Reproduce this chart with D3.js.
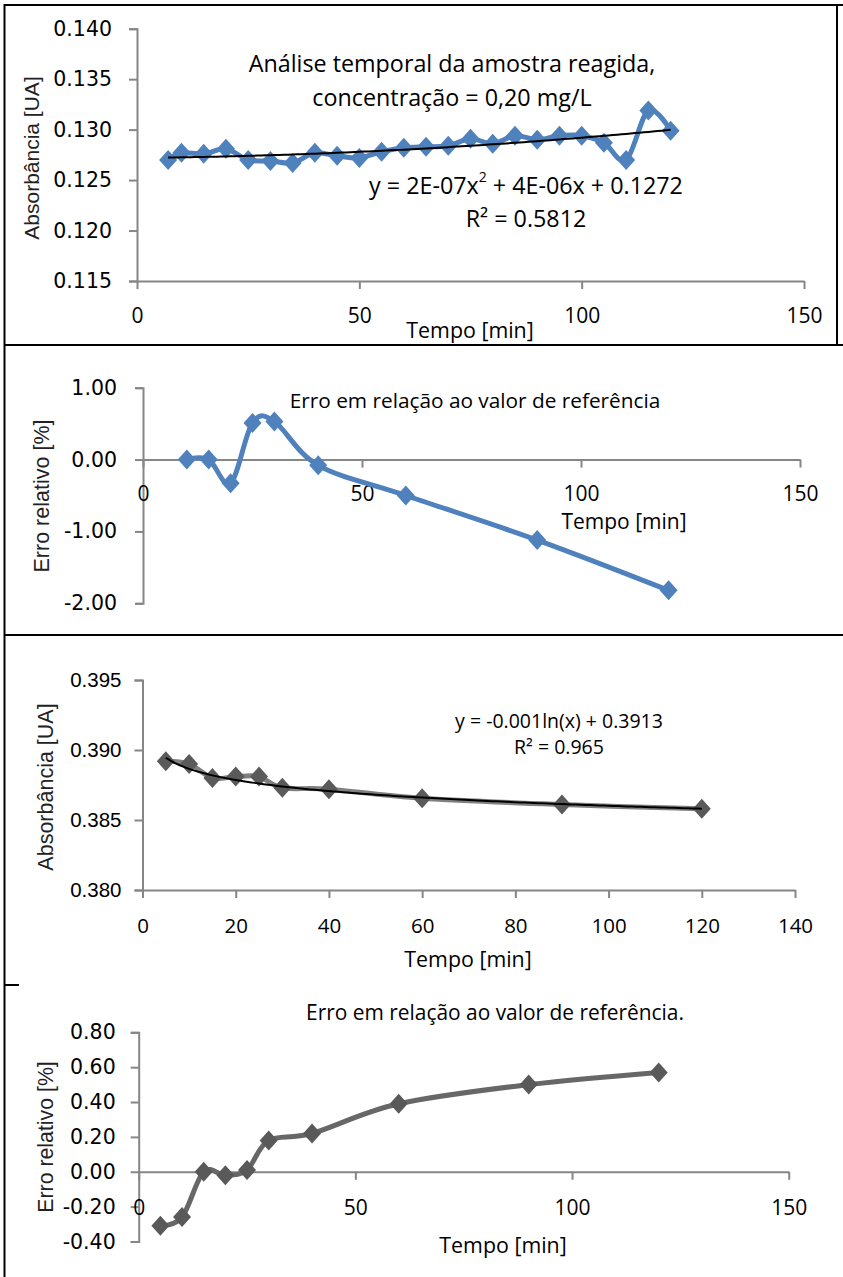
<!DOCTYPE html>
<html>
<head>
<meta charset="utf-8">
<script src="https://cdn.jsdelivr.net/npm/d3@7"></script>
<style>
  body { margin: 0; background: #fff; }
  svg { display: block; }
</style>
</head>
<body>
<div id="chart"></div>
<script>
// panel 1: absorbance over time, 0,20 mg/L
const p1Time = [7, 10, 15, 20, 25, 30, 35, 40, 45, 50, 55, 60, 65, 70, 75, 80, 85, 90, 95, 100, 105, 110, 115, 120];
const p1Abs = [0.1270, 0.1277, 0.1276, 0.1281, 0.1270, 0.1269, 0.1267, 0.1277, 0.1274, 0.1272, 0.1278, 0.1282, 0.1283, 0.1284,
  0.1291, 0.1286, 0.1294, 0.1290, 0.1294, 0.1294, 0.1287, 0.1270, 0.1319, 0.1299];
const p1Fit = [1.6e-7, 4e-6, 0.1272]; // a, b, c of the polynomial trendline
const p1XTicks = [0, 50, 100, 150];
const p1YTicks = [0.115, 0.120, 0.125, 0.130, 0.135, 0.140];

// panel 2: relative error
const p2Time = [10, 15, 20, 25, 30, 40, 60, 90, 120];
const p2Err = [0.00, 0.00, -0.33, 0.51, 0.53, -0.08, -0.50, -1.12, -1.82];
const p2XTicks = [0, 50, 100, 150];
const p2YTicks = [-2, -1, 0, 1];

// panel 3: absorbance with log trendline
const p3Time = [5, 10, 15, 20, 25, 30, 40, 60, 90, 120];
const p3Abs = [0.3892, 0.3890, 0.3880, 0.3881, 0.3881, 0.3873, 0.3872, 0.38655, 0.3861, 0.3858];
const p3Fit = [-0.001145, 0.39129]; // a*ln(x) + b
const p3XTicks = [0, 20, 40, 60, 80, 100, 120, 140];
const p3YTicks = [0.380, 0.385, 0.390, 0.395];

// panel 4: relative error
const p4Time = [5, 10, 15, 20, 25, 30, 40, 60, 90, 120];
const p4Err = [-0.31, -0.26, 0.00, -0.02, 0.01, 0.18, 0.22, 0.39, 0.50, 0.57];
const p4XTicks = [0, 50, 100, 150];
const p4YTicks = [-0.4, -0.2, 0, 0.2, 0.4, 0.6, 0.8];

const W = 843, H = 1277;
const svg = d3.select('#chart').append('svg').attr('width', W).attr('height', H);

const wideFont = '"DejaVu Sans", Verdana, sans-serif';
const armFont = '"Liberation Sans", Arial, sans-serif';
const textFont = '"Open Sans", sans-serif';
const axisColor = '#868686';

const diamond = (cx, cy) => `M${cx},${cy - 10}L${cx + 9},${cy}L${cx},${cy + 10}L${cx - 9},${cy}Z`;

function drawAxes(g, x, y, o) {
  // y axis
  const ya = g.append('g').attr('transform', `translate(${x.range()[0]},0)`)
    .call(d3.axisLeft(y).tickValues(o.yTicks).tickSize(8).tickFormat(o.yFmt));
  ya.select('.domain').attr('stroke', axisColor).attr('stroke-width', 2);
  ya.selectAll('.tick line').attr('stroke', axisColor).attr('stroke-width', 2);
  ya.selectAll('.tick text').attr('x', -o.yGap).attr('font-family', o.yFamily)
    .attr('font-size', o.yFont).attr('fill', '#000');

  // x axis at the crossing value
  const xa = g.append('g').attr('transform', `translate(0,${y(o.xCross)})`)
    .call(d3.axisBottom(x).tickValues(o.xTicks).tickSize(8).tickSizeOuter(0).tickFormat(d3.format('d')));
  xa.select('.domain').attr('stroke', axisColor).attr('stroke-width', 2);
  xa.selectAll('.tick line').attr('stroke', axisColor).attr('stroke-width', 2);
  xa.selectAll('.tick text').attr('y', 0).attr('dy', o.xLabelDy).attr('font-family', textFont)
    .attr('font-size', o.xFont).attr('fill', '#000');
}

function drawSeries(g, x, y, xs, ys, lineColor, markColor) {
  const pts = xs.map((t, i) => [x(t), y(ys[i])]);
  g.append('path')
    .attr('d', d3.line().curve(d3.curveCardinal.tension(0))(pts))
    .attr('fill', 'none').attr('stroke', lineColor).attr('stroke-width', 5)
    .attr('stroke-linejoin', 'round');
  g.selectAll('path.mk').data(pts).enter().append('path')
    .attr('class', 'mk')
    .attr('d', d => diamond(d[0], d[1]))
    .attr('fill', markColor);
}

function label(g, txt, x, y, size, font, opts = {}) {
  const t = g.append('text').attr('x', x).attr('y', y).attr('text-anchor', opts.anchor || 'middle')
    .attr('dominant-baseline', 'central').attr('font-family', font).attr('font-size', size)
    .attr('fill', opts.fill || '#000').text(txt);
  if (opts.rotate) t.attr('transform', `rotate(-90,${x},${y})`);
  return t;
}

const fmt = n => d => d.toFixed(n);

// ---------- panel 1 ----------
{
  const g = svg.append('g');
  const x = d3.scaleLinear().domain([0, 150]).range([137, 804]);
  const y = d3.scaleLinear().domain([0.115, 0.140]).range([281, 28.7]);
  drawAxes(g, x, y, { yTicks: p1YTicks, xTicks: p1XTicks, yFmt: fmt(3), xCross: 0.115, yGap: 25,
    yFamily: wideFont, yFont: 20.5, xFont: 21, xLabelDy: 41.5 });
  drawSeries(g, x, y, p1Time, p1Abs, '#4f81bd', '#4f81bd');
  const trend = d3.range(p1Time[0], 120.5, 1).map(t => [x(t), y(p1Fit[0] * t * t + p1Fit[1] * t + p1Fit[2])]);
  g.append('path').attr('d', d3.line()(trend)).attr('fill', 'none').attr('stroke', '#000').attr('stroke-width', 2);
  label(g, 'Análise temporal da amostra reagida,', 452, 63, 23.3, textFont);
  label(g, 'concentração = 0,20 mg/L', 452, 97, 23.3, textFont);
  const eq = label(g, 'y = 2E-07x', 526, 185, 23.3, textFont);
  eq.append('tspan').attr('font-size', 14).attr('dy', -9).text('2');
  eq.append('tspan').attr('dy', 9).text(' + 4E-06x + 0.1272');
  label(g, 'R² = 0.5812', 526, 218, 23.3, textFont);
  label(g, 'Absorbância [UA]', 31, 158, 21, armFont, { rotate: true, fill: '#222' });
  label(g, 'Tempo [min]', 470, 329, 21.4, textFont);
}

// ---------- panel 2 ----------
{
  const g = svg.append('g');
  const x = d3.scaleLinear().domain([0, 150]).range([143, 800]);
  const y = d3.scaleLinear().domain([-2, 1]).range([603.3, 387.7]);
  drawAxes(g, x, y, { yTicks: p2YTicks, xTicks: p2XTicks, yFmt: fmt(2), xCross: 0, yGap: 26,
    yFamily: wideFont, yFont: 20.5, xFont: 21, xLabelDy: 41.5 });
  drawSeries(g, x, y, p2Time, p2Err, '#4f81bd', '#4f81bd');
  label(g, 'Erro em relação ao valor de referência', 475, 400, 20.8, textFont);
  label(g, 'Erro relativo [%]', 42, 496, 21.5, armFont, { rotate: true, fill: '#222' });
  label(g, 'Tempo [min]', 624, 521, 21, textFont);
}

// ---------- panel 3 ----------
{
  const g = svg.append('g');
  const x = d3.scaleLinear().domain([0, 140]).range([142.5, 795]);
  const y = d3.scaleLinear().domain([0.380, 0.395]).range([890, 680]);
  drawAxes(g, x, y, { yTicks: p3YTicks, xTicks: p3XTicks, yFmt: fmt(3), xCross: 0.380, yGap: 21,
    yFamily: armFont, yFont: 20.5, xFont: 20.5, xLabelDy: 42.5 });
  drawSeries(g, x, y, p3Time, p3Abs, '#808080', '#5a5a5a');
  const trend = d3.range(p3Time[0], 120.5, 1).map(t => [x(t), y(p3Fit[0] * Math.log(t) + p3Fit[1])]);
  g.append('path').attr('d', d3.line()(trend)).attr('fill', 'none').attr('stroke', '#000').attr('stroke-width', 2);
  label(g, 'y = -0.001ln(x) + 0.3913', 559, 720, 19.5, textFont);
  label(g, 'R² = 0.965', 559, 746, 19.5, textFont);
  label(g, 'Absorbância [UA]', 46, 787, 21.5, armFont, { rotate: true, fill: '#222' });
  label(g, 'Tempo [min]', 468, 958, 21.4, textFont);
}

// ---------- panel 4 ----------
{
  const g = svg.append('g');
  const x = d3.scaleLinear().domain([0, 150]).range([138.7, 788.7]);
  const y = d3.scaleLinear().domain([-0.4, 0.8]).range([1241.5, 1032.3]);
  drawAxes(g, x, y, { yTicks: p4YTicks, xTicks: p4XTicks, yFmt: fmt(2), xCross: 0, yGap: 23,
    yFamily: wideFont, yFont: 20.5, xFont: 21, xLabelDy: 43.5 });
  drawSeries(g, x, y, p4Time, p4Err, '#676767', '#595959');
  label(g, 'Erro em relação ao valor de referência.', 495, 1012, 20.9, textFont);
  label(g, 'Erro relativo [%]', 46, 1137, 21.3, armFont, { rotate: true, fill: '#222' });
  label(g, 'Tempo [min]', 503, 1244, 21.4, textFont);
}

// table borders round the panels
const border = svg.append('g').attr('stroke', '#000').attr('stroke-width', 2);
border.append('line').attr('x1', 4.5).attr('y1', 4).attr('x2', 4.5).attr('y2', H);
border.append('line').attr('x1', 4).attr('y1', 5).attr('x2', W).attr('y2', 5);
border.append('line').attr('x1', 837).attr('y1', 4).attr('x2', 837).attr('y2', 345);
border.append('line').attr('x1', 4).attr('y1', 345).attr('x2', W).attr('y2', 345);
border.append('line').attr('x1', 4).attr('y1', 635).attr('x2', W).attr('y2', 635);
border.append('line').attr('x1', 4).attr('y1', 985).attr('x2', 19).attr('y2', 985);
</script>
</body>
</html>
